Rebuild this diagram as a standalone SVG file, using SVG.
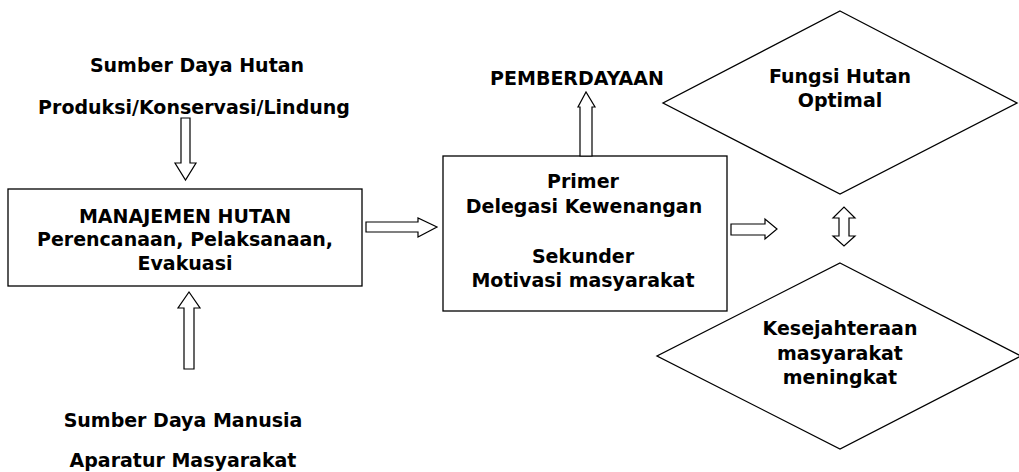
<svg xmlns="http://www.w3.org/2000/svg" width="1019" height="472" viewBox="0 0 1019 472">
  <style>
    text { font-family: "DejaVu Sans", Verdana, sans-serif; font-weight: bold; font-size: 19px; fill: #000; text-anchor: middle; }
    .shape { fill: #fff; stroke: #000; stroke-width: 1.3; }
    .arrow { fill: #fff; stroke: #000; stroke-width: 1.2; }
  </style>
  <rect width="1019" height="472" fill="#fff"/>

  <g id="forest-resources">
    <text x="197" y="72">Sumber Daya Hutan</text>
    <text x="194" y="114">Produksi/Konservasi/Lindung</text>
  </g>

  <g id="forest-management">
    <rect class="shape" x="8" y="189" width="354" height="97"/>
    <text x="185" y="223">MANAJEMEN HUTAN</text>
    <text x="185" y="246">Perencanaan, Pelaksanaan,</text>
    <text x="185" y="270">Evakuasi</text>
  </g>

  <g id="human-resources">
    <text x="183" y="427">Sumber Daya Manusia</text>
    <text x="183" y="467">Aparatur Masyarakat</text>
  </g>

  <g id="empowerment-box">
    <rect class="shape" x="443" y="156" width="284" height="155"/>
    <text x="583" y="188">Primer</text>
    <text x="584" y="213">Delegasi Kewenangan</text>
    <text x="583" y="263">Sekunder</text>
    <text x="583" y="287">Motivasi masyarakat</text>
  </g>

  <g id="empowerment-label">
    <text x="577" y="85">PEMBERDAYAAN</text>
  </g>

  <g id="forest-function">
    <polygon class="shape" points="840,11 1017,103 840,194 663,103"/>
    <text x="840" y="83">Fungsi Hutan</text>
    <text x="840" y="107">Optimal</text>
  </g>

  <g id="welfare">
    <polygon class="shape" points="840,263 1021,356 840,449 657,356"/>
    <text x="840" y="335">Kesejahteraan</text>
    <text x="840" y="360">masyarakat</text>
    <text x="840" y="384">meningkat</text>
  </g>

  <g id="connectors">
    <!-- down into management -->
    <polygon class="arrow" points="181,118 190,118 190,163 196,163 185.5,180 175,163 181,163"/>
    <!-- up into management -->
    <polygon class="arrow" points="184,369 194,369 194,308 200,308 189,292 178,308 184,308"/>
    <!-- management to empowerment box -->
    <polygon class="arrow" points="366,222 418,222 418,218 437,227 418,237 418,232 366,232"/>
    <!-- box up to PEMBERDAYAAN -->
    <polygon class="arrow" points="580,156 580,107 578,107 586,92 595,107 592,107 592,156"/>
    <!-- box to outcomes -->
    <polygon class="arrow" points="731,224 765,224 765,219 777,229 765,239 765,235 731,235"/>
    <!-- two-way between outcomes -->
    <polygon class="arrow" points="839,218 833,218 844,207 855,218 849,218 849,236 855,236 844,246 833,236 839,236"/>
  </g>
</svg>
